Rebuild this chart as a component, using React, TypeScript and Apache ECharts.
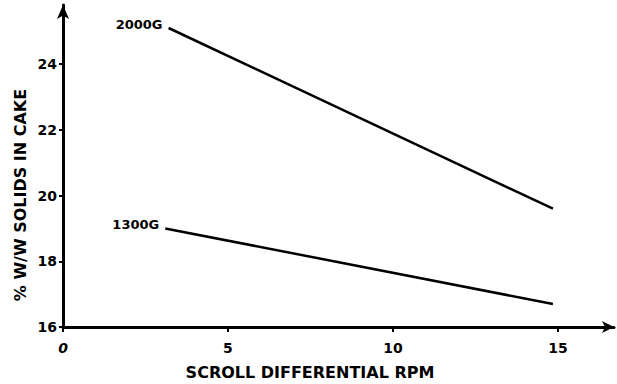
import React, { useEffect, useRef } from "react";
import * as echarts from "echarts";

const seriesNames = ["2000G", "1300G"];
const rpm2000 = [3.2, 14.85];
const solids2000 = [25.1, 19.6];
const rpm1300 = [3.1, 14.85];
const solids1300 = [19.0, 16.7];
const xTicks = [0, 5, 10, 15];
const yTicks = [16, 18, 20, 22, 24];

const FONT = "'DejaVu Sans', 'Liberation Sans', Arial, sans-serif";

export default function App() {
  const ref = useRef<HTMLDivElement>(null);
  useEffect(() => {
    const chart = echarts.init(ref.current!, null, { renderer: "svg" });
    const mk = (xs: number[], ys: number[], name: string) =>
      xs.map((x, i) =>
        i === 0
          ? {
              value: [x, ys[i]],
              label: {
                show: true,
                position: "left",
                distance: 6,
                offset: [0, -4],
                formatter: name,
                color: "#000",
                fontFamily: FONT,
                fontWeight: "bold",
                fontSize: 13,
              },
            }
          : { value: [x, ys[i]] }
      );
    chart.setOption({
      animation: false,
      backgroundColor: "#fff",
      grid: { left: 63, right: 3, top: 5, bottom: 57 },
      xAxis: {
        type: "value",
        min: 0,
        max: 16.7,
        splitLine: { show: false },
        axisLine: {
          show: true,
          symbol: ["none", "arrow"],
          symbolSize: [9, 12],
          lineStyle: { color: "#000", width: 3 },
        },
        axisTick: { show: true, customValues: xTicks, length: 5, lineStyle: { color: "#000", width: 2 } },
        axisLabel: {
          customValues: xTicks,
          color: "#000",
          fontFamily: FONT,
          fontWeight: "bold",
          fontSize: 14,
          margin: 14,
          formatter: (v: number) => (v === 0 ? "{i|0}" : String(v)),
          rich: { i: { fontStyle: "italic", fontWeight: "bold", fontSize: 14, fontFamily: FONT, color: "#000", padding: [0, 0, 8, 0] } },
        },
      },
      yAxis: {
        type: "value",
        min: 16,
        max: 25.8,
        splitLine: { show: false },
        axisLine: {
          show: true,
          symbol: ["none", "arrow"],
          symbolSize: [9, 14],
          lineStyle: { color: "#000", width: 3 },
        },
        axisTick: { show: true, customValues: yTicks, length: 4, lineStyle: { color: "#000", width: 2 } },
        axisLabel: {
          customValues: yTicks,
          color: "#000",
          fontFamily: FONT,
          fontWeight: "bold",
          fontSize: 14,
          margin: 6,
        },
      },
      graphic: [
        {
          type: "text",
          x: 20,
          y: 195,
          rotation: Math.PI / 2,
          style: {
            text: "% W/W SOLIDS IN CAKE",
            fill: "#000",
            font: `bold 16px ${FONT}`,
            align: "center",
            verticalAlign: "middle",
          },
        },
        {
          type: "text",
          x: 310,
          y: 372,
          style: {
            text: "SCROLL DIFFERENTIAL RPM",
            fill: "#000",
            font: `bold 16px ${FONT}`,
            align: "center",
            verticalAlign: "middle",
          },
        },
      ],
      series: [
        {
          name: seriesNames[0],
          type: "line",
          data: mk(rpm2000, solids2000, seriesNames[0]),
          symbol: "circle",
          symbolSize: 0.1,
          lineStyle: { color: "#000", width: 2.5 },
          itemStyle: { color: "#000" },
        },
        {
          name: seriesNames[1],
          type: "line",
          data: mk(rpm1300, solids1300, seriesNames[1]),
          symbol: "circle",
          symbolSize: 0.1,
          lineStyle: { color: "#000", width: 2.5 },
          itemStyle: { color: "#000" },
        },
      ],
    });
    return () => chart.dispose();
  }, []);
  return <div ref={ref} style={{ width: 617, height: 384, position: "absolute", left: 0, top: 0 }} />;
}
